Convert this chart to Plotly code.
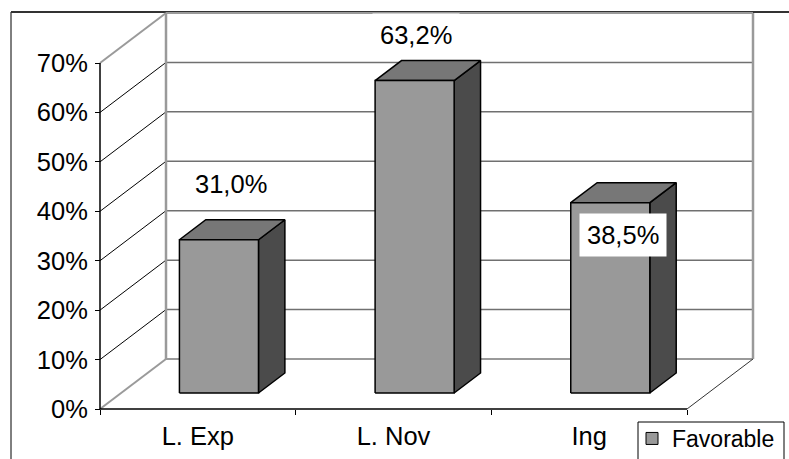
import plotly.graph_objects as go

# ---- data ---------------------------------------------------------------
CATEGORIES = ["L. Exp", "L. Nov", "Ing"]
FAVORABLE = [31.0, 63.2, 38.5]          # percent
SERIES_NAME = "Favorable"
Y_TICKS = [0, 10, 20, 30, 40, 50, 60, 70]
Y_TICK_TEXT = ["0%", "10%", "20%", "30%", "40%", "50%", "60%", "70%"]

# ---- geometry of the pseudo-3D box ---------------------------------------
W, H = 789, 459
FRONT_LEFT_PX, FRONT_RIGHT_PX = 100, 687   # front floor edge, px
FLOOR_PX, TOP_PX = 409, 63                 # 0% and 70% on the front plane, px from top
Y_MAX = Y_TICKS[-1]
N = len(CATEGORIES)
SX = (FRONT_RIGHT_PX - FRONT_LEFT_PX) / N  # px per category unit
SY = (FLOOR_PX - TOP_PX) / Y_MAX           # px per percent
DEPTH_X = 66 / SX                          # oblique depth shift, data units
DEPTH_Y = 50 / SY

BAR_HALF = 0.202       # half bar width, category units
Z_FRONT, Z_BACK = 0.32, 0.72

FONT = "Liberation Sans, Arial, sans-serif"
FONT_SIZE = 25.5
LEGEND_FONT_SIZE = 23
FRONT_COLOR = "#999999"
TOP_COLOR = "#777777"
SIDE_COLOR = "#4b4b4b"
GRID_COLOR = "#707070"
EDGE_COLOR = "#9a9a9a"

# label offsets (px) relative to the centre of each bar's top face
LABEL_SHIFTS = [(-1, 46), (-12, 36), (0, -42)]

# legend frame (px)
LEG_LEFT, LEG_TOP, LEG_RIGHT = 638, 422, 784


def proj(x, y, z):
    """Oblique projection of (category, value, depth) into the 2D axes."""
    return x + z * DEPTH_X, y + z * DEPTH_Y


fig = go.Figure()


def seg(p0, p1, color, width):
    fig.add_trace(go.Scatter(
        x=[p0[0], p1[0]], y=[p0[1], p1[1]], mode="lines",
        line=dict(color=color, width=width),
        hoverinfo="skip", showlegend=False))


def face(points, fill):
    xs = [p[0] for p in points] + [points[0][0]]
    ys = [p[1] for p in points] + [points[0][1]]
    fig.add_trace(go.Scatter(
        x=xs, y=ys, mode="lines", fill="toself", fillcolor=fill,
        line=dict(color="black", width=1.5),
        hoverinfo="skip", showlegend=False))


# back wall gridlines and side-wall diagonals
for t in Y_TICKS:
    edge = t in (0, Y_MAX)
    seg(proj(0, t, 1), proj(N, t, 1), EDGE_COLOR if edge else GRID_COLOR, 2 if edge else 1.5)
    seg(proj(0, t, 0), proj(0, t, 1), EDGE_COLOR if edge else "black", 2 if edge else 1)

# back wall vertical edges
seg(proj(0, 0, 1), proj(0, Y_MAX, 1), EDGE_COLOR, 2.5)
seg(proj(N, 0, 1), proj(N, Y_MAX, 1), EDGE_COLOR, 2.5)
# floor right edge
seg(proj(N, 0, 0), proj(N, 0, 1), "#333333", 1)
# front axes
seg(proj(0, 0, 0), proj(0, Y_MAX, 0), "black", 1.5)
seg(proj(0, 0, 0), proj(N, 0, 0), "black", 1.5)

# columns
for i, v in enumerate(FAVORABLE):
    xl, xr = i + 0.5 - BAR_HALF, i + 0.5 + BAR_HALF
    face([proj(xr, 0, Z_FRONT), proj(xr, 0, Z_BACK), proj(xr, v, Z_BACK), proj(xr, v, Z_FRONT)], SIDE_COLOR)
    face([proj(xl, v, Z_FRONT), proj(xr, v, Z_FRONT), proj(xr, v, Z_BACK), proj(xl, v, Z_BACK)], TOP_COLOR)
    face([proj(xl, 0, Z_FRONT), proj(xr, 0, Z_FRONT), proj(xr, v, Z_FRONT), proj(xl, v, Z_FRONT)], FRONT_COLOR)

# legend entry
fig.add_trace(go.Scatter(
    x=[None], y=[None], mode="markers", name=SERIES_NAME,
    marker=dict(symbol="square", size=12, color=FRONT_COLOR, line=dict(color="black", width=1)),
    showlegend=True))

# value labels
z_mid = (Z_FRONT + Z_BACK) / 2
for i, v in enumerate(FAVORABLE):
    ax, ay = proj(i + 0.5, v, z_mid)
    dx, dy = LABEL_SHIFTS[i]
    fig.add_annotation(
        x=ax, y=ay, xref="x", yref="y", showarrow=False,
        text=f"{v:.1f}".replace(".", ",") + "%",
        xshift=dx, yshift=dy,
        bgcolor="white", borderpad=7,
        font=dict(family=FONT, size=FONT_SIZE, color="black"))

# chart border
fig.add_shape(type="rect", xref="paper", yref="paper",
              x0=11 / W, x1=1.02, y0=-0.02, y1=1 - 12 / H,
              line=dict(color="black", width=1), layer="below")
fig.add_shape(type="line", xref="paper", yref="paper",
              x0=11 / W, x1=1.02, y0=1 - 12 / H, y1=1 - 12 / H,
              line=dict(color="#333333", width=2), layer="below")
# legend frame
fig.add_shape(type="rect", xref="paper", yref="paper",
              x0=LEG_LEFT / W, x1=LEG_RIGHT / W, y0=-0.05, y1=1 - LEG_TOP / H,
              line=dict(color="black", width=1), fillcolor="white", layer="below")

fig.update_layout(
    width=W, height=H,
    margin=dict(l=0, r=0, t=0, b=0, autoexpand=False),
    paper_bgcolor="white", plot_bgcolor="rgba(0,0,0,0)",
    font=dict(family=FONT, size=FONT_SIZE, color="black"),
    xaxis=dict(
        range=[-FRONT_LEFT_PX / SX, (W - FRONT_LEFT_PX) / SX],
        domain=[0, 1], anchor="free", position=(H - FLOOR_PX) / H,
        showgrid=False, zeroline=False, showline=False,
        tickvals=[i + 0.5 for i in range(N)], ticktext=CATEGORIES,
        ticks="", tickfont=dict(size=FONT_SIZE), ticklabelstandoff=9,
        minor=dict(tickvals=list(range(N + 1)), ticks="outside", ticklen=5,
                   tickcolor="black", tickwidth=1),
        fixedrange=True,
    ),
    yaxis=dict(
        range=[-(H - FLOOR_PX) / SY, FLOOR_PX / SY],
        domain=[0, 1], anchor="free", position=FRONT_LEFT_PX / W,
        showgrid=False, zeroline=False, showline=False,
        tickvals=Y_TICKS, ticktext=Y_TICK_TEXT,
        ticks="outside", ticklen=5, tickcolor="black", tickwidth=1,
        tickfont=dict(size=FONT_SIZE), ticklabelstandoff=2,
        fixedrange=True,
    ),
    legend=dict(
        x=(LEG_LEFT - 6) / W, y=1 - (LEG_TOP - 5) / H, xanchor="left", yanchor="top",
        bgcolor="rgba(0,0,0,0)", borderwidth=0,
        font=dict(size=LEGEND_FONT_SIZE),
    ),
)

fig.write_html("out.html")
